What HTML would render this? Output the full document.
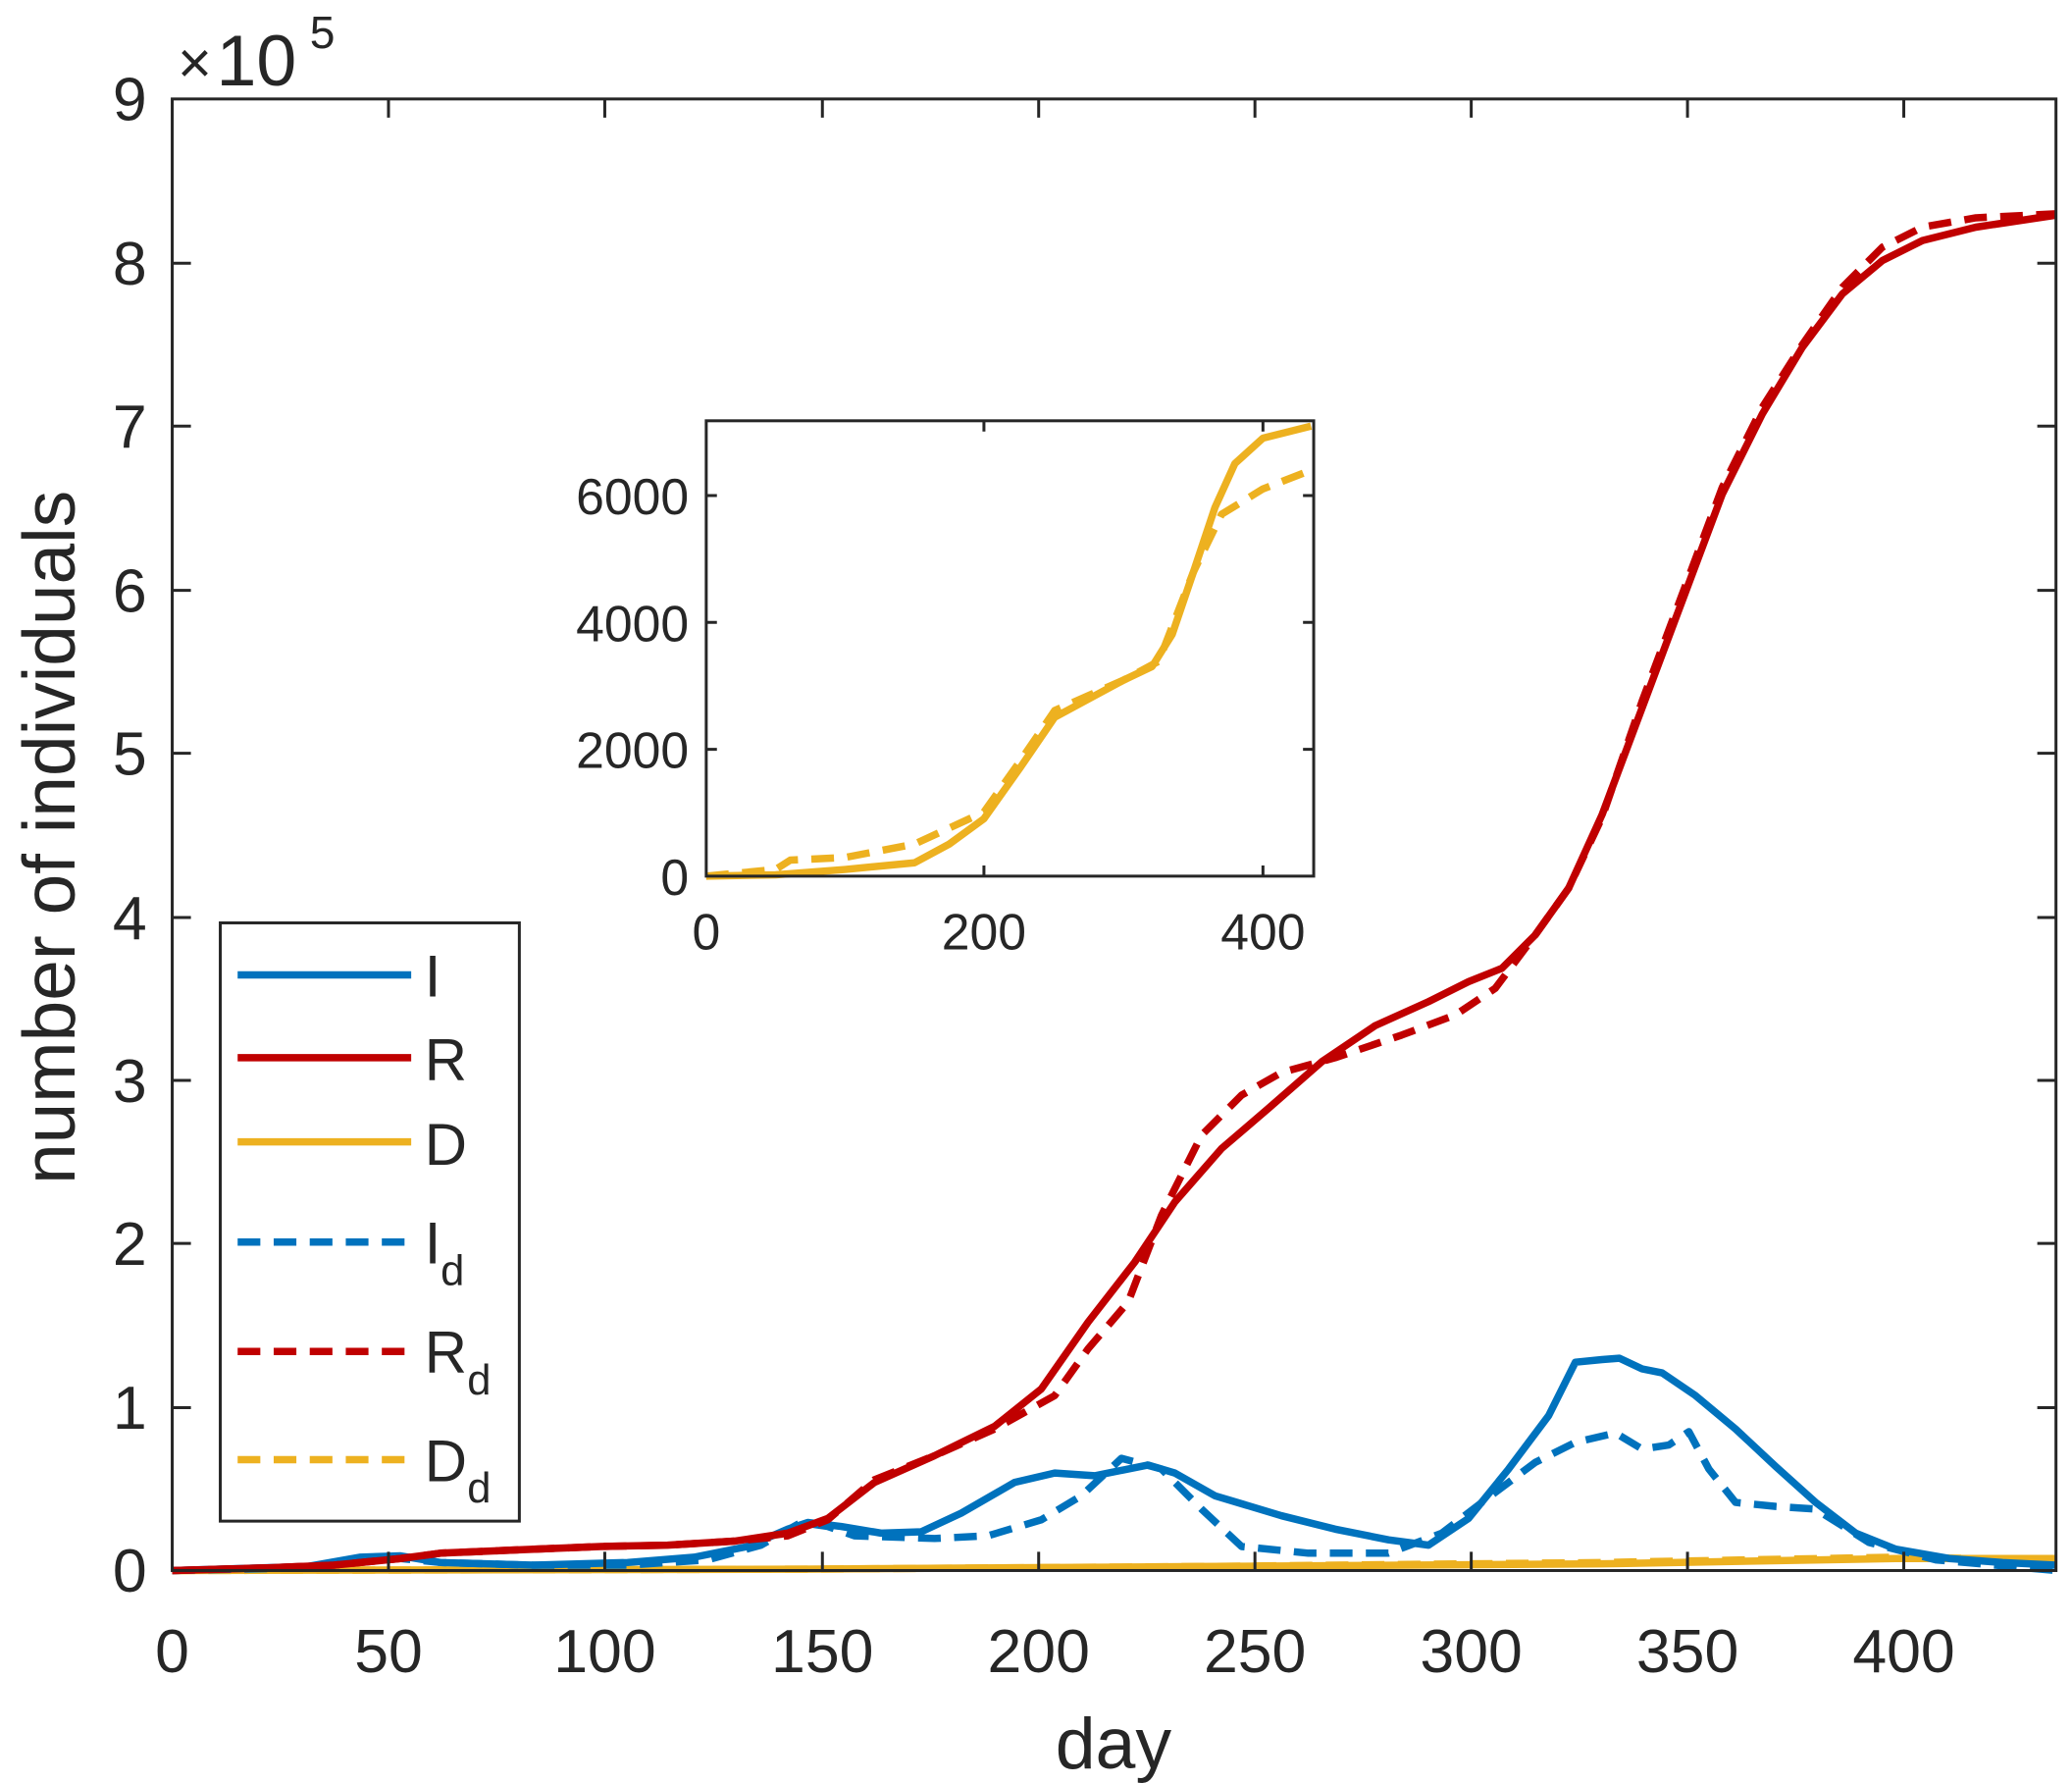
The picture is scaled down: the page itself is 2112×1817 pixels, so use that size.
<!DOCTYPE html>
<html><head><meta charset="utf-8"><style>html,body{margin:0;padding:0;background:#fff}svg{display:block}</style></head>
<body>
<svg width="2112" height="1817" viewBox="0 0 1552 1335" xmlns="http://www.w3.org/2000/svg" font-family="Liberation Sans, sans-serif" fill="#262626">
<rect width="1552" height="1335" fill="#fff"/>
<g fill="none" stroke-width="5.5" stroke-linejoin="round">
<!-- D -->
<polyline stroke="#EDB120" points="129,1176 600,1175 900,1173 1200,1171 1420,1167 1540,1167"/>
<polyline stroke="#EDB120" stroke-dasharray="17,10" points="129,1176 600,1175 900,1173 1200,1170 1420,1166 1540,1168"/>
<!-- I -->
<polyline stroke="#0072BD" points="129,1176 230,1173 270,1166 300,1165 330,1170 400,1172 470,1170 520,1166 560,1158 590,1145 605,1140 630,1143 660,1148 690,1147 720,1133 760,1110 790,1103 820,1105 860,1097 880,1103 910,1120 960,1135 1000,1145 1040,1153 1070,1157 1100,1137 1130,1100 1160,1060 1180,1020 1200,1018 1213,1017 1230,1025 1245,1028 1270,1045 1300,1070 1330,1098 1360,1125 1390,1148 1420,1160 1460,1167 1500,1170 1540,1172"/>
<polyline stroke="#0072BD" stroke-dasharray="17,10" points="129,1176 230,1174 290,1166 330,1170 400,1172 470,1172 530,1168 570,1157 600,1140 620,1143 640,1150 700,1152 740,1150 780,1138 810,1120 840,1092 870,1100 900,1130 930,1158 980,1163 1040,1163 1080,1148 1110,1125 1150,1095 1180,1080 1210,1073 1230,1085 1250,1082 1265,1072 1280,1100 1300,1125 1330,1128 1360,1130 1400,1155 1450,1168 1540,1176"/>
<!-- R -->
<polyline stroke="#C00000" points="129,1176 200,1174 250,1172 300,1167 330,1163 400,1160 450,1158 500,1157 550,1154 590,1148 620,1137 655,1110 700,1090 745,1068 780,1040 815,990 850,945 880,900 915,860 950,830 990,795 1030,768 1070,750 1100,735 1125,725 1150,700 1175,665 1200,610 1230,530 1260,450 1290,370 1320,310 1350,260 1380,220 1410,195 1440,180 1480,170 1540,161"/>
<polyline stroke="#C00000" stroke-dasharray="17,10" points="129,1176 200,1174 250,1172 300,1167 330,1163 400,1160 450,1158 500,1157 550,1154 590,1150 620,1138 655,1108 700,1090 745,1070 790,1045 815,1010 845,975 870,910 900,850 930,820 960,803 1000,792 1050,775 1090,760 1120,740 1150,700 1175,665 1200,612 1230,525 1260,445 1290,365 1320,305 1350,258 1380,215 1410,185 1440,170 1480,163 1540,160"/>
</g>
<!-- main axes -->
<rect x="129" y="74" width="1411" height="1102" fill="none" stroke="#262626" stroke-width="2.2"/>
<g stroke="#262626" stroke-width="2.2">
<path d="M291,1176v-14M453,1176v-14M616,1176v-14M778,1176v-14M940,1176v-14M1102,1176v-14M1264,1176v-14M1426,1176v-14"/>
<path d="M291,74v14M453,74v14M616,74v14M778,74v14M940,74v14M1102,74v14M1264,74v14M1426,74v14"/>
<path d="M129,1054h14M129,931h14M129,809h14M129,687h14M129,564h14M129,442h14M129,319h14M129,197h14"/>
<path d="M1540,1054h-14M1540,931h-14M1540,809h-14M1540,687h-14M1540,564h-14M1540,442h-14M1540,319h-14M1540,197h-14"/>
</g>
<g font-size="46" text-anchor="middle">
<text x="129" y="1252">0</text><text x="291" y="1252">50</text><text x="453" y="1252">100</text><text x="616" y="1252">150</text><text x="778" y="1252">200</text><text x="940" y="1252">250</text><text x="1102" y="1252">300</text><text x="1264" y="1252">350</text><text x="1426" y="1252">400</text>
</g>
<g font-size="46" text-anchor="end">
<text x="110" y="1192">0</text><text x="110" y="1070">1</text><text x="110" y="947">2</text><text x="110" y="825">3</text><text x="110" y="703">4</text><text x="110" y="580">5</text><text x="110" y="458">6</text><text x="110" y="335">7</text><text x="110" y="213">8</text><text x="110" y="90">9</text>
</g>
<text x="133" y="62" font-size="44">×</text>
<text x="162" y="64" font-size="54">10</text>
<text x="232" y="36" font-size="34">5</text>
<text x="834" y="1324" font-size="54" text-anchor="middle">day</text>
<text transform="translate(56,627) rotate(-90)" font-size="55" text-anchor="middle">number of individuals</text>
<!-- inset -->
<rect x="529" y="315" width="455" height="341" fill="#fff"/>
<g fill="none" stroke-width="5.5" stroke="#EDB120" stroke-linejoin="round">
<polyline points="529,656 581,655 633,651 685,646 711,632 737,613 764,575 790,537 816,523 842,509 863,499 878,475 894,428 910,380 925,347 946,328 982,319"/>
<polyline stroke-dasharray="17,10" points="529,656 581,651 592,644 633,642 685,632 737,608 764,570 790,532 842,509 868,495 894,428 915,385 946,366 982,352"/>
</g>
<rect x="529" y="315" width="455" height="341" fill="none" stroke="#262626" stroke-width="2.2"/>
<g stroke="#262626" stroke-width="2.2">
<path d="M737,656v-8M946,656v-8M737,315v8M946,315v8M529,561h8M529,466h8M529,371h8M984,561h-8M984,466h-8M984,371h-8"/>
</g>
<g font-size="38" text-anchor="middle">
<text x="529" y="711">0</text><text x="737" y="711">200</text><text x="946" y="711">400</text>
</g>
<g font-size="38" text-anchor="end">
<text x="516" y="670">0</text><text x="516" y="575">2000</text><text x="516" y="480">4000</text><text x="516" y="385">6000</text>
</g>
<!-- legend -->
<rect x="165" y="691" width="224" height="448" fill="#fff" stroke="#262626" stroke-width="2.2"/>
<g stroke-width="5.5" fill="none">
<path d="M178,730h130" stroke="#0072BD"/>
<path d="M178,792h130" stroke="#C00000"/>
<path d="M178,855h130" stroke="#EDB120"/>
<path d="M178,930h130" stroke="#0072BD" stroke-dasharray="17,10"/>
<path d="M178,1012h130" stroke="#C00000" stroke-dasharray="17,10"/>
<path d="M178,1093h130" stroke="#EDB120" stroke-dasharray="17,10"/>
</g>
<g font-size="44">
<text x="318" y="746">I</text>
<text x="318" y="809">R</text>
<text x="318" y="872">D</text>
<text x="318" y="946">I</text><text x="330" y="962" font-size="32">d</text>
<text x="318" y="1028">R</text><text x="350" y="1044" font-size="32">d</text>
<text x="318" y="1109">D</text><text x="350" y="1125" font-size="32">d</text>
</g>
</svg>
</body></html>
